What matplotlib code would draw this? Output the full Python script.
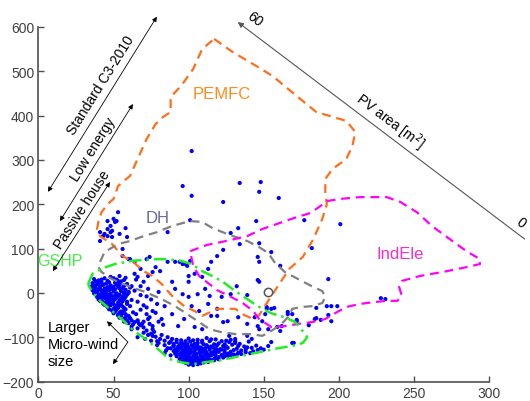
import matplotlib
matplotlib.use("Agg")
import matplotlib.pyplot as plt

plt.rcParams["font.family"] = ["Liberation Sans", "DejaVu Sans"]

# ── contour outlines (data units) ────────────────────────────────────────────
pemfc_x = [117, 129, 145, 156, 172, 185, 196, 205, 211, 209, 205, 196, 191, 191, 192, 189,
           183, 176, 167, 159, 153, 147, 143, 137, 131, 119, 109, 104, 97, 89, 82, 76, 70,
           63, 56, 49, 41, 39, 40, 42, 46, 50, 53, 61, 66, 72, 78, 83, 88, 88, 95, 103, 109, 117]
pemfc_y = [573, 544, 512, 489, 444, 408, 397, 388, 363, 331, 302, 280, 257, 228, 200, 167,
           121, 81, 54, 13, -18, -50, -59, -50, -36, -36, -52, -41, -30, -7, 20, 38, 49,
           70, 83, 110, 128, 144, 162, 182, 200, 212, 241, 264, 302, 347, 381, 397, 408, 442,
           467, 505, 550, 573]

dh_x = [41, 44, 53, 61, 70, 79, 89, 101, 109, 116, 127, 139, 147, 153, 157, 164, 173, 182,
        189, 191, 189, 182, 175, 169, 167, 163, 159, 154, 149, 141, 131, 121, 114, 107, 99,
        91, 82, 71, 60, 49, 42, 40, 41]
dh_y = [70, 92, 110, 117, 128, 137, 151, 162, 160, 146, 131, 117, 103, 90, 70, 47, 31, 15,
        4, -9, -23, -30, -32, -36, -52, -66, -77, -88, -97, -93, -93, -88, -82, -66, -48,
        -30, -14, 2, 15, 31, 47, 58, 70]

indele_x = [101, 112, 125, 139, 149, 161, 172, 181, 187, 192, 201, 214, 232, 241, 252, 262,
            274, 285, 294, 294, 285, 272, 254, 242, 240, 242, 239, 232, 223, 214, 205, 199,
            191, 182, 173, 164, 155, 147, 143, 136, 127, 119, 113, 107, 103, 101]
indele_y = [94, 108, 117, 128, 144, 158, 171, 180, 194, 207, 212, 216, 216, 205, 182, 151,
            121, 94, 76, 65, 58, 49, 38, 27, 15, -7, -18, -18, -21, -25, -32, -43, -59, -66,
            -70, -75, -77, -59, -41, -23, -7, 6, 22, 38, 61, 94]

gshp_x = [33, 36, 43, 51, 62, 76, 86, 95, 102, 109, 117, 124, 131, 139, 146, 155, 164, 171,
          175, 179, 176, 169, 161, 151, 141, 131, 121, 112, 103, 94, 87, 81, 72, 63, 56, 49,
          41, 36, 33]
gshp_y = [20, 43, 56, 65, 72, 76, 76, 72, 65, 49, 36, 22, 4, -14, -30, -46, -55, -66, -82,
          -100, -113, -120, -124, -131, -138, -145, -152, -156, -161, -156, -149, -131, -106,
          -84, -61, -41, -18, 0, 20]

# ── scatter points (data units) ──────────────────────────────────────────────
sparse_pts = [
    (102, 320), (96, 241), (102, 219), (134, 248), (148, 250), (147, 228), (160, 214),
    (123, 205), (101, 164), (145, 162), (133, 146), (128, 135), (147, 112), (134, 110),
    (177, 164), (201, 155), (182, 101), (53, 182), (86, 137), (161, 61), (193, 31),
    (155, 92), (228, -12), (231, -14), (123, 97), (146, 81), (147, 70), (157, -34),
    (152, -32), (46, 162), (50, 167), (51, 160), (48, 151), (46, 144), (49, 140),
    (41, 137), (43, 128), (46, 128), (58, 146), (59, 126), (54, 133), (52, 162),
    (44, 133), (48, 137), (49, 126), (56, 99), (61, 76), (68, 54), (74, 81), (94, 70),
    (101, 72), (99, 61),
]

middle_pts = [
    (41, 117), (56, 83), (60, 76), (64, 70), (72, 76), (78, 58), (86, 70), (91, 70),
    (96, 65), (98, 65), (115, 70), (119, 83), (113, 54), (100, 38), (104, 43), (109, 36),
    (100, 25), (76, 47), (73, 38), (81, 49), (66, 36), (64, 43), (54, 38), (53, 27),
    (60, 2), (62, 15), (68, 15), (73, 9), (80, 2), (89, 25), (91, 9), (96, -3), (100, -9),
    (106, -3), (111, 9), (114, -7), (102, -30), (107, -41), (113, -25), (115, -52),
    (119, -52), (97, -59), (93, -75), (104, -77), (109, -82), (89, -48), (84, -30),
    (79, -25), (76, -41), (82, -59), (72, -48), (69, -70), (66, -64), (62, -82), (76, -82),
    (76, -97), (71, -104), (66, -100), (79, -109), (73, -59), (66, -20), (70, -28),
    (68, -38), (72, -33), (75, -15), (78, -45), (74, -55), (80, -65), (83, -72), (77, -88),
    (82, -95), (86, -100), (70, -90), (73, -95), (88, -110), (84, -118), (80, -113),
    (75, -108), (90, -120), (86, -125), (68, -5), (64, 5), (72, -8), (70, 25), (65, 30),
    (72, -85), (75, -92), (78, -99), (81, -104), (84, -108), (79, -118), (85, -130),
    (84, -136), (88, -141), (76, -75), (70, -65), (74, -70),
]

right_pts = [
    (185, -34), (192, -30), (195, -30), (199, -30), (193, -50), (185, -57), (188, -61),
    (180, -73), (172, -61), (166, -48), (162, -75), (159, -77), (169, -113), (170, -113),
    (155, -111), (146, 29), (147, 25), (132, 15), (128, -3), (139, -5), (122, -9),
    (152, -36), (155, -36), (166, -43), (169, -48), (172, -64), (184, -59), (195, -64),
    (119, -36), (123, -66), (126, -64), (133, -55), (139, -70), (144, -55), (149, -64),
    (151, -48), (146, -75), (147, -82), (153, -82), (161, -86), (139, -97), (142, -104),
    (153, -120), (127, -97), (131, -109), (124, -120),
]

cluster_a = [
    (37, 31), (40, 28), (44, 33), (48, 36), (52, 30), (55, 26), (58, 34),
    (36, 22), (39, 19), (42, 24), (45, 21), (48, 17), (51, 23), (54, 18), (59, 20),
    (35, 14), (38, 12), (41, 15), (44, 10), (46, 13), (49, 9), (53, 14), (56, 11), (61, 12),
    (36, 6), (39, 3), (40, 8), (43, 5), (45, 1), (47, 6), (50, 3), (52, -1), (55, 4), (58, 7),
    (37, -1), (40, -4), (42, 0), (44, -3), (46, -7), (48, -2), (51, -6), (54, -4), (57, -2),
    (60, 0), (39, -9), (41, -12), (43, -8), (45, -14), (47, -10), (49, -15), (52, -11),
    (55, -13), (58, -9), (62, -16), (41, -18), (43, -21), (46, -19), (48, -23), (50, -17),
    (53, -22), (56, -19), (59, -25), (44, -27), (46, -31), (48, -28), (51, -33), (54, -29),
    (57, -34), (61, -30), (47, -37), (49, -40), (52, -38), (55, -42), (58, -37), (63, -44),
    (50, -46), (53, -49), (56, -46), (60, -52), (65, -48), (54, -56), (57, -59), (61, -57),
    (66, -62), (57, -65), (60, -68), (64, -66), (68, -73), (62, -76), (66, -80), (70, -78),
    (38, 26), (42, 30), (46, 27), (50, 33), (54, 22), (57, 29), (37, 17), (40, 22),
    (43, 18), (47, 24), (50, 14), (52, 19), (57, 16), (37, 9), (41, 10), (42, 3), (45, 8),
    (48, 12), (51, 8), (54, 10), (57, 1), (38, 2), (41, -7), (44, 0), (47, -4), (49, -8),
    (53, -7), (56, -9), (59, -4), (40, -15), (42, -16), (44, -11), (47, -16), (51, -14),
    (54, -17), (57, -14), (43, -24), (45, -23), (47, -26), (50, -25), (52, -29), (55, -26),
    (59, -20), (46, -32), (50, -36), (53, -34), (56, -31), (50, -40), (51, -42), (54, -45),
    (57, -40), (53, -51), (55, -52), (58, -55), (58, -48), (62, -62), (59, -62), (63, -71),
    (67, -70),
]

cluster_b = [
    (89, -104), (95, -107), (100, -103), (106, -106), (112, -102), (118, -105), (125, -108),
    (131, -104), (87, -113), (92, -111), (97, -114), (101, -110), (104, -115), (109, -112),
    (114, -109), (120, -114), (127, -111), (134, -115), (140, -110), (90, -119), (94, -117),
    (98, -121), (102, -118), (106, -120), (110, -116), (115, -121), (119, -118), (123, -120),
    (129, -117), (137, -121), (145, -119), (88, -125), (92, -127), (95, -123), (99, -126),
    (103, -124), (107, -128), (111, -125), (116, -123), (121, -127), (126, -124), (132, -126),
    (139, -123), (148, -125), (90, -131), (93, -129), (97, -133), (100, -130), (104, -132),
    (108, -129), (112, -134), (117, -131), (122, -128), (128, -133), (135, -130), (143, -132),
    (150, -128), (91, -137), (95, -135), (98, -139), (101, -136), (105, -138), (109, -134),
    (113, -140), (118, -137), (124, -135), (130, -139), (138, -134), (92, -143), (96, -141),
    (99, -145), (103, -142), (106, -146), (110, -143), (115, -141), (120, -145), (126, -142),
    (132, -140), (94, -149), (97, -147), (100, -151), (104, -148), (108, -150), (112, -147),
    (117, -149), (123, -146), (128, -144), (96, -154), (99, -152), (102, -156), (106, -153),
    (110, -155), (115, -152), (120, -150), (98, -158), (101, -160), (104, -157), (108, -159),
    (113, -156), (100, -162), (103, -163), (106, -161),
    (92, -106), (98, -109), (103, -107), (109, -108), (115, -105), (122, -109), (128, -106),
    (90, -115), (95, -113), (99, -116), (106, -113), (112, -118), (117, -116), (124, -116),
    (131, -113), (93, -121), (96, -119), (100, -123), (104, -121), (108, -123), (113, -122),
    (118, -125), (125, -121), (133, -120), (142, -124), (91, -128), (94, -125), (97, -128),
    (101, -128), (105, -126), (109, -126), (114, -128), (119, -129), (124, -129), (130, -129),
    (138, -128), (146, -129), (92, -134), (96, -131), (99, -134), (102, -133), (107, -135),
    (111, -131), (115, -135), (120, -133), (126, -137), (133, -135), (141, -136), (94, -139),
    (97, -137), (100, -141), (104, -139), (108, -141), (111, -139), (116, -138), (122, -140),
    (128, -138), (135, -138), (95, -145), (98, -143), (101, -147), (105, -144), (109, -147),
    (113, -145), (118, -143), (124, -143), (98, -150), (102, -150), (106, -149), (110, -151),
    (114, -150), (119, -147), (100, -155), (104, -154), (108, -155), (112, -153), (117, -152),
    (102, -158), (106, -158), (110, -157),
]

ref_point = (153, 2)

x_ticks = [0, 50, 100, 150, 200, 250, 300]
y_ticks = [-200, -100, 0, 100, 200, 300, 400, 500, 600]

# ── colours ──────────────────────────────────────────────────────────────────
BLUE = "#0000FF"
ORANGE = "#FF6E1A"
GRAY = "#808080"
MAGENTA = "#FF00FF"
GREEN = "#22EE22"
AXIS = "#505050"

fig = plt.figure(figsize=(5.30, 4.02), dpi=100)
ax = fig.add_axes([0.0726, 0.0485, 0.850, 0.882])

# scatter
for pts in (sparse_pts, middle_pts, right_pts, cluster_a, cluster_b):
    xs, ys = zip(*pts)
    ax.scatter(xs, ys, s=9, color=BLUE, edgecolors="none", zorder=2)

# outlines
ax.plot(pemfc_x, pemfc_y, color=ORANGE, lw=1.6, ls=(0, (4, 2.6)), zorder=3)
ax.plot(dh_x, dh_y, color=GRAY, lw=1.6, ls=(0, (4, 2.6)), zorder=3)
ax.plot(indele_x, indele_y, color=MAGENTA, lw=1.6, ls=(0, (4, 2.6)), zorder=3)
ax.plot(gshp_x, gshp_y, color=GREEN, lw=1.8, ls=(0, (5, 2, 1, 2)), zorder=3)
ax.plot(*ref_point, marker="o", ms=6, mfc="none", mec="#555555", mew=1.1, zorder=4)

# region labels
ax.text(122, 449, "PEMFC", color="#FF8C1A", fontsize=12, ha="center", va="center")
ax.text(79.5, 171, "DH", color="#6A6A9A", fontsize=12, ha="center", va="center")
ax.text(241, 88, "IndEle", color="#F030C8", fontsize=12, ha="center", va="center")
ax.text(14, 72, "GSHP", color="#44EE44", fontsize=11.5, ha="center", va="center",
        clip_on=False)

# building standard arrows
arrow_kw = dict(arrowstyle="<|-|>", color="black", lw=0.6, mutation_scale=7,
                shrinkA=0, shrinkB=0)
ax.annotate("", xy=(78.8, 623), xytext=(6.3, 228), arrowprops=arrow_kw,
            annotation_clip=False)
ax.annotate("", xy=(62.9, 426), xytext=(14.3, 162), arrowprops=arrow_kw,
            annotation_clip=False)
ax.annotate("", xy=(47.6, 250), xytext=(9.6, 49), arrowprops=arrow_kw,
            annotation_clip=False)
ax.text(41.6, 471, "Standard C3-2010", rotation=58, fontsize=10, ha="center",
        va="center", rotation_mode="anchor")
ax.text(36.2, 325, "Low energy", rotation=58, fontsize=10, ha="center",
        va="center", rotation_mode="anchor")
ax.text(28.9, 189, "Passive house", rotation=57, fontsize=10, ha="center",
        va="center", rotation_mode="anchor")

# PV area arrow
ax.annotate("", xy=(132.7, 611), xytext=(323.7, 121.5),
            arrowprops=dict(arrowstyle="-|>", color="#555555", lw=0.8,
                            mutation_scale=8, shrinkA=0, shrinkB=0),
            annotation_clip=False)
ax.text(233.9, 388, "PV area [m$^2$]", rotation=-37, fontsize=10, ha="center",
        va="center", rotation_mode="anchor", clip_on=False)
ax.text(144, 618, "60", rotation=-37, fontsize=10, ha="center", va="center",
        rotation_mode="anchor", clip_on=False)
ax.text(321, 160, "0", rotation=-37, fontsize=10, ha="center", va="center",
        rotation_mode="anchor", clip_on=False)

# micro-wind annotation
ax.text(6.3, -115, "Larger\nMicro-wind\nsize", fontsize=10.5, ha="left",
        va="center", linespacing=1.3)
mw_kw = dict(arrowstyle="-|>", color="black", lw=0.6, mutation_scale=7,
             shrinkA=0, shrinkB=0)
ax.annotate("", xy=(45.6, -64), xytext=(59.5, -111), arrowprops=mw_kw)
ax.annotate("", xy=(49.6, -161), xytext=(59.5, -111), arrowprops=mw_kw)

# axes styling
ax.set_xlim(0, 300)
ax.set_ylim(-200, 600)
ax.set_xticks(x_ticks)
ax.set_yticks(y_ticks)
for side in ("top", "right"):
    ax.spines[side].set_visible(False)
for side in ("left", "bottom"):
    ax.spines[side].set_color(AXIS)
    ax.spines[side].set_linewidth(1.2)
ax.tick_params(direction="in", length=4, width=1.0, color=AXIS, labelcolor="#404040",
               labelsize=10, pad=3)

fig.savefig("out.png", dpi=100)
